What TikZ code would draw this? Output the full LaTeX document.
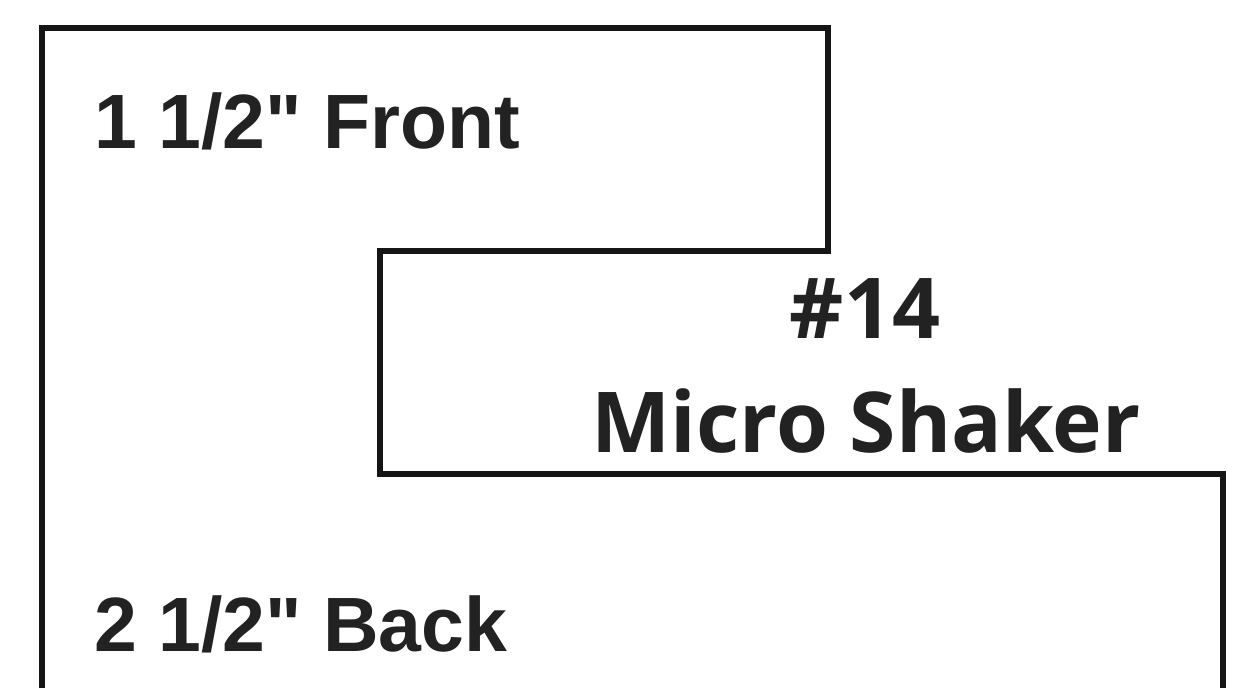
\documentclass[tikz,border=0pt]{standalone}
\usepackage{fontspec}
\newfontfamily\lblfont{Liberation Sans}
\newfontfamily\numfont{Open Sans}
\definecolor{ink}{HTML}{222222}
\definecolor{edge}{HTML}{151515}
\tikzset{
  outline/.style={draw=edge, line width=6pt, line join=miter},
  sidelabel/.style={anchor=base west, inner sep=0pt, text=ink, font=\lblfont\bfseries\fontsize{77}{80}\selectfont},
  centerlabel/.style={anchor=base, inner sep=0pt, text=ink, font=\numfont\bfseries\fontsize{84}{90}\selectfont}
}
\begin{document}
\begin{tikzpicture}[x=1pt,y=-1pt]
\useasboundingbox (0,0) rectangle (1257,688);
\fill[white] (0,0) rectangle (1257,688);
\draw[outline] (42,688) -- (42,28) -- (828,28) -- (828,251) -- (380,251) -- (380,474) -- (1223,474) -- (1223,688);
\node[sidelabel] (front) at (94,148) {1 1/2" Front};
\node[sidelabel] (back) at (94,651) {2 1/2" Back};
\node[centerlabel] (num) at (865,338) {\#14};
\node[centerlabel] (name) at (866,452) {Micro Shaker};
\end{tikzpicture}
\end{document}
